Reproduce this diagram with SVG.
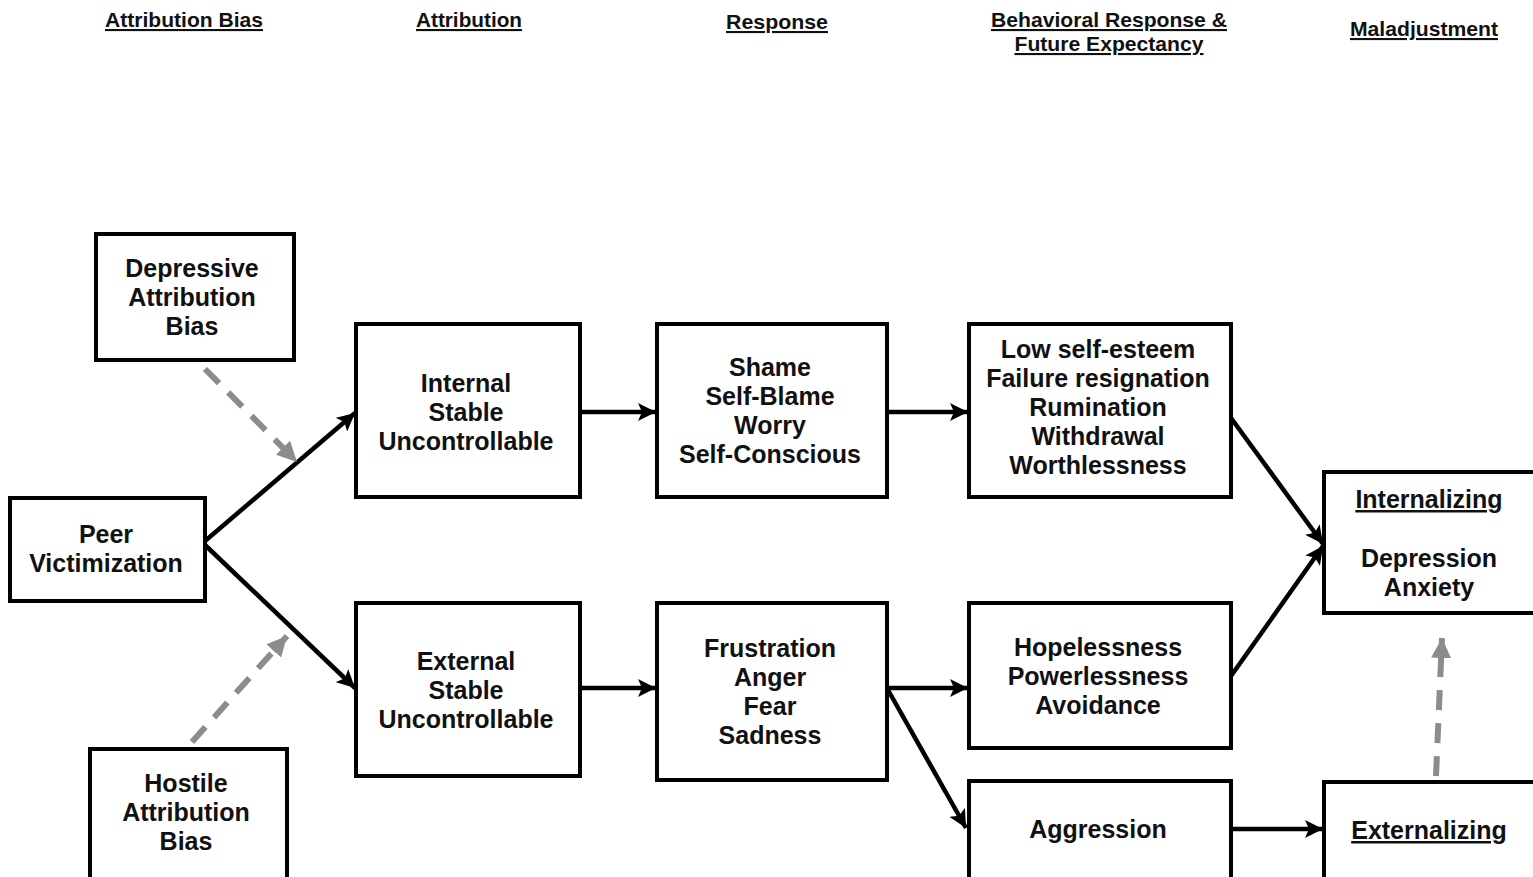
<svg xmlns="http://www.w3.org/2000/svg" width="1533" height="877" viewBox="0 0 1533 877">
<defs>
<style>
.hdr{font-family:"Liberation Sans",Arial,sans-serif;font-weight:bold;font-size:21px;fill:#111;text-anchor:middle;text-decoration:underline}
.box{fill:#fff;stroke:#000;stroke-width:4}
.t{font-family:"Liberation Sans",Arial,sans-serif;font-weight:bold;font-size:25px;fill:#111;text-anchor:middle}
.u{text-decoration:underline}
.c{stroke:#000;stroke-width:4.5;fill:none;marker-end:url(#ah)}
.d{stroke:#8c8c8c;stroke-width:6;fill:none;stroke-dasharray:20 13;marker-end:url(#ahg)}
</style>
<marker id="ah" markerUnits="userSpaceOnUse" markerWidth="20" markerHeight="18" refX="18" refY="9" orient="auto">
<path d="M0,0 L18,9 L0,18 L4,9 Z" fill="#000"/>
</marker>
<marker id="ahg" markerUnits="userSpaceOnUse" markerWidth="22" markerHeight="20" refX="20" refY="10" orient="auto">
<path d="M0,0 L20,10 L0,20 Z" fill="#8c8c8c"/>
</marker>
</defs>
<rect width="1533" height="877" fill="#fff"/>
<g id="headers">
<text class="hdr" x="184" y="27" textLength="158" lengthAdjust="spacingAndGlyphs">Attribution Bias</text>
<text class="hdr" x="469" y="27" textLength="106" lengthAdjust="spacingAndGlyphs">Attribution</text>
<text class="hdr" x="777" y="29" textLength="102" lengthAdjust="spacingAndGlyphs">Response</text>
<text class="hdr" x="1109" y="27" textLength="236" lengthAdjust="spacingAndGlyphs">Behavioral Response &amp;</text>
<text class="hdr" x="1109" y="51" textLength="189" lengthAdjust="spacingAndGlyphs">Future Expectancy</text>
<text class="hdr" x="1424" y="36" textLength="148" lengthAdjust="spacingAndGlyphs">Maladjustment</text>
</g>
<g id="connectors">
<line class="c" x1="205" y1="541" x2="355" y2="413"/>
<line class="c" x1="205" y1="545" x2="355" y2="688"/>
<line class="c" x1="580" y1="412" x2="656" y2="412"/>
<line class="c" x1="887" y1="412" x2="968" y2="412"/>
<line class="c" x1="580" y1="688" x2="656" y2="688"/>
<line class="c" x1="887" y1="688" x2="968" y2="688"/>
<line class="c" x1="888" y1="690" x2="966" y2="828"/>
<line class="c" x1="1231" y1="829" x2="1323" y2="829"/>
<line class="c" x1="1231" y1="418" x2="1323" y2="544"/>
<line class="c" x1="1231" y1="676" x2="1323" y2="546"/>
<line class="d" x1="205" y1="369" x2="297" y2="462"/>
<line class="d" x1="192" y1="742" x2="287" y2="636"/>
<line class="d" x1="1436" y1="776" x2="1442" y2="638"/>
</g>
<g id="depressive">
<rect class="box" x="96" y="234" width="198" height="126"/>
<text class="t" x="192" y="277">Depressive</text>
<text class="t" x="192" y="306">Attribution</text>
<text class="t" x="192" y="335">Bias</text>
</g>
<g id="peer">
<rect class="box" x="10" y="498" width="195" height="103"/>
<text class="t" x="106" y="543">Peer</text>
<text class="t" x="106" y="572">Victimization</text>
</g>
<g id="hostile">
<rect class="box" x="90" y="749" width="197" height="140"/>
<text class="t" x="186" y="792">Hostile</text>
<text class="t" x="186" y="821">Attribution</text>
<text class="t" x="186" y="850">Bias</text>
</g>
<g id="internal">
<rect class="box" x="356" y="324" width="224" height="173"/>
<text class="t" x="466" y="392">Internal</text>
<text class="t" x="466" y="421">Stable</text>
<text class="t" x="466" y="450">Uncontrollable</text>
</g>
<g id="external">
<rect class="box" x="356" y="603" width="224" height="173"/>
<text class="t" x="466" y="670">External</text>
<text class="t" x="466" y="699">Stable</text>
<text class="t" x="466" y="728">Uncontrollable</text>
</g>
<g id="shame">
<rect class="box" x="657" y="324" width="230" height="173"/>
<text class="t" x="770" y="376">Shame</text>
<text class="t" x="770" y="405">Self-Blame</text>
<text class="t" x="770" y="434">Worry</text>
<text class="t" x="770" y="463">Self-Conscious</text>
</g>
<g id="frustration">
<rect class="box" x="657" y="603" width="230" height="177"/>
<text class="t" x="770" y="657">Frustration</text>
<text class="t" x="770" y="686">Anger</text>
<text class="t" x="770" y="715">Fear</text>
<text class="t" x="770" y="744">Sadness</text>
</g>
<g id="lowselfesteem">
<rect class="box" x="969" y="324" width="262" height="173"/>
<text class="t" x="1098" y="358">Low self-esteem</text>
<text class="t" x="1098" y="387">Failure resignation</text>
<text class="t" x="1098" y="416">Rumination</text>
<text class="t" x="1098" y="445">Withdrawal</text>
<text class="t" x="1098" y="474">Worthlessness</text>
</g>
<g id="hopelessness">
<rect class="box" x="969" y="603" width="262" height="145"/>
<text class="t" x="1098" y="656">Hopelessness</text>
<text class="t" x="1098" y="685">Powerlessness</text>
<text class="t" x="1098" y="714">Avoidance</text>
</g>
<g id="aggression">
<rect class="box" x="969" y="781" width="262" height="110"/>
<text class="t" x="1098" y="838">Aggression</text>
</g>
<g id="internalizing">
<rect class="box" x="1324" y="472" width="220" height="141"/>
<text class="t u" x="1429" y="508">Internalizing</text>
<text class="t" x="1429" y="567">Depression</text>
<text class="t" x="1429" y="596">Anxiety</text>
</g>
<g id="externalizing">
<rect class="box" x="1324" y="782" width="220" height="110"/>
<text class="t u" x="1429" y="839">Externalizing</text>
</g>
</svg>
